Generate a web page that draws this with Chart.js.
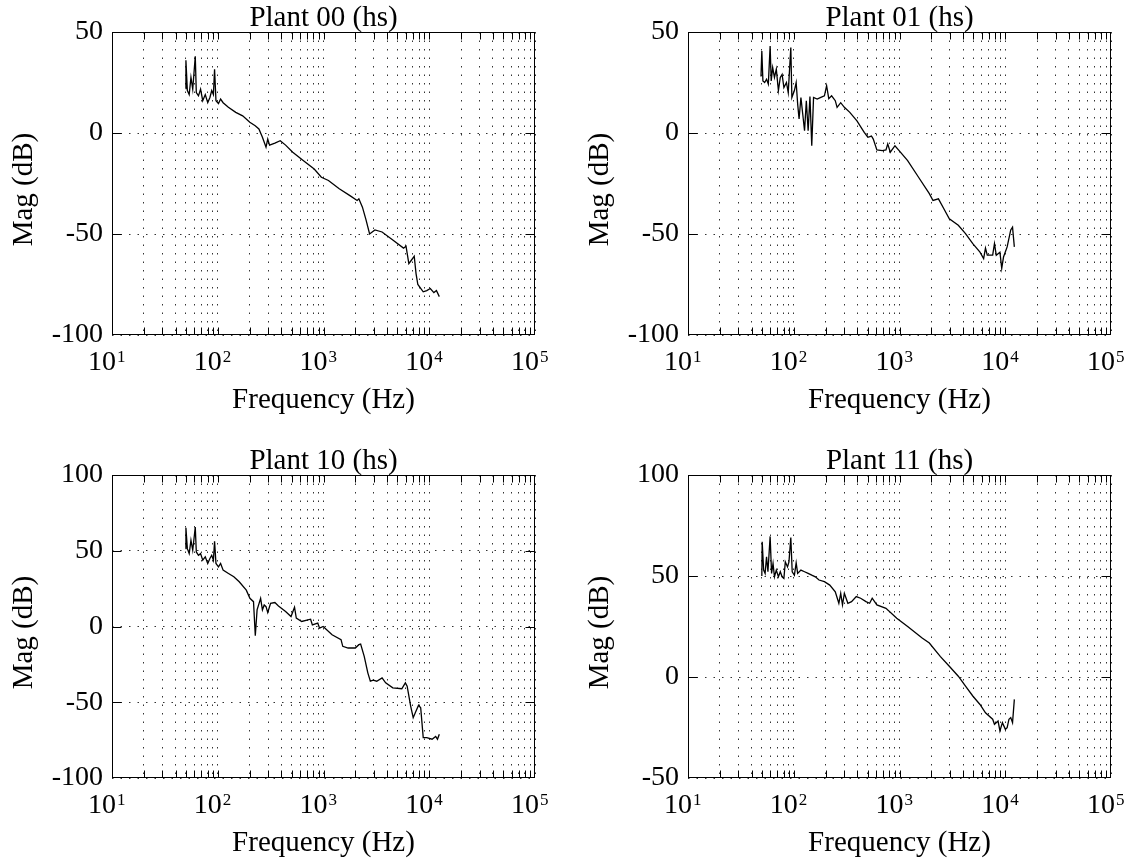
<!DOCTYPE html>
<html><head><meta charset="utf-8">
<script src="https://cdn.jsdelivr.net/npm/chart.js@4/dist/chart.umd.min.js"></script>
<style>
html,body{margin:0;padding:0;background:#fff;overflow:hidden;width:1128px;height:867px}
.cell{position:absolute}
canvas{display:block}
</style></head><body>
<div class="cell" style="left:0;top:0"><canvas id="c00" width="576" height="443"></canvas></div>
<div class="cell" style="left:576px;top:0"><canvas id="c01" width="552" height="443"></canvas></div>
<div class="cell" style="left:0;top:443px"><canvas id="c10" width="576" height="424"></canvas></div>
<div class="cell" style="left:576px;top:443px"><canvas id="c11" width="552" height="424"></canvas></div>
<script>
// ---- data (frequency in Hz, magnitude in dB) ----
const titles = ['Plant 00 (hs)', 'Plant 01 (hs)', 'Plant 10 (hs)', 'Plant 11 (hs)'];
const xAxisTitle = 'Frequency (Hz)';
const yAxisTitle = 'Mag (dB)';
const xLabelBase = '10';
const xLabelExponents = [1, 2, 3, 4, 5];
const yRange00 = [-100, 50], yRange01 = [-100, 50], yRange10 = [-100, 100], yRange11 = [-50, 100];
const yStep = 50;

const freq00 = [49.6,50,51.6,53.7,55.8,58,61.3,62.7,65.7,68.8,72.1,76.2,80.4,84.3,87.7,91,93.3,96.2,101.6,106.4,112.4,126,148,172,201,226,245,264,286,297,309,347,390,438,512,647,817,955,1114,1409,1778,2080,2160,2334,2524,2729,3064,3580,4521,5710,6030,6412,6775,7210,7500,7800,8770,9470,10230,11060,11690,12450];
const mag00 = [22,36,21,19,27.5,21.7,38,20,18.4,21.7,16,19,15,17.6,21,19,31.6,16,14.6,16.8,15,12.7,10.2,8.5,5.3,3.6,2,-2,-7,-3,-6,-5,-3.8,-6,-9.5,-13.7,-17.8,-21.9,-23.5,-27.6,-31,-33.4,-32.6,-36.7,-43,-50,-48,-49,-53,-57,-56,-64.7,-63,-61,-69.6,-75,-78.6,-78,-77,-79,-78,-81];

const freq01 = [49,49.9,51.1,53.1,55.3,57.5,59.8,61.2,63.2,65.7,68.4,71.6,74.6,77.6,80.7,85.3,88.7,93.8,96,101.4,105.4,108.9,112.3,116.9,121.6,126.5,131.5,136.8,142.3,148,153.9,166.6,180.3,195,204.5,214.4,228,247,257,278,301,339,396,464,502,543,565,611,688,745,774,818,906,1020,1194,1514,1915,2074,2335,2627,2958,3598,4210,4556,4932,5768,6246,6501,6761,7605,7907,8225,8906,9261,9630,10420,11270,11720,12190];
const mag01 = [28,40.6,25.8,25,26.6,24.2,43,25.8,32.4,27.5,31.6,21,27.5,29,22.5,25,20,42.3,17.6,21,25,14.3,7,17.6,9.4,1.1,16,1.1,18,-6.3,17.6,16.8,17.6,18.4,23.4,17,18.4,16,12.7,15,12.7,10.2,6,0.3,-2.1,-1.5,-3,-8.4,-8.7,-8.4,-5.4,-9.5,-6.3,-9.5,-13.7,-21.9,-30,-33.4,-32.6,-37.5,-42.5,-45.7,-49.8,-52.3,-54.8,-59,-62.2,-57,-60.5,-60.5,-54.8,-60.5,-59,-67,-61.4,-56.4,-48,-46.6,-56.4];

const freq10 = [49.6,50,51.6,53.7,55.8,58,61.3,62.7,65.7,68.8,72.1,76.2,80.4,84.3,87.7,91,93.3,96.2,101.6,106.4,112.4,126.3,141.9,159.6,186.2,201.4,217.8,226.5,235.5,254.3,264.5,275,286,297,316,347,375,438,493,532,553,622,755,785,883,918,993,1205,1465,1521,1710,2000,2160,2245,2427,2625,2773,2951,3187,3580,3870,4521,5500,5945,6180,6672,7050,7500,7925,8300,8770,9470,10640,11500,11960,12450];
const mag10 = [51.4,65.2,51.4,48.1,56.9,50.3,65.6,49.2,47,48.1,43.8,46,41.6,44.9,47,43.8,56.2,41.6,39.4,41.6,37.2,35,32.8,29.5,24,18.6,16.4,-6.1,11,18.6,11,14.2,13.1,9.2,15.3,15.8,13.6,9.9,6.6,12.7,5.5,3.3,4.8,1.1,2.2,-1.1,0,-5.5,-8.7,-13.1,-14.2,-14.2,-12,-11.6,-19.7,-30.6,-36.1,-35.4,-36.1,-33.9,-37.2,-40.5,-41.1,-37.2,-39.4,-52.5,-60.2,-55.8,-52,-53.6,-73.3,-73.3,-74.4,-72.6,-74.4,-71.1];

const freq11 = [49.9,50.3,51.9,53.6,55.3,57,59.8,61.7,63.7,65.7,68.4,71.6,74.6,77.6,80.7,83.2,87.3,90.1,93.8,96.7,101.4,105.4,108.9,116.9,126.5,136.8,148,160,173.3,195,219,247,267,278,289,301,325,352,390,429,482,522,552,611,745,942,1194,1637,1915,2427,2958,3598,4210,4932,5768,6501,7605,7907,8551,8906,9397,10030,10420,10840,11270,11720,12190];
const mag11 = [50,66.9,52.9,51.3,59.5,52.1,69.6,51.3,56.2,49.6,52.9,49.6,52.1,49.6,48.8,57,54.5,57,69,52.1,50.4,56.5,51.3,52.9,52.1,51.3,50.4,49.6,48,47.2,45.5,42.2,36.5,41.4,35.7,41.4,36.5,37.3,39.8,39,37.3,36.5,39,35.7,34,29.1,25,19.3,16.8,10.2,5.3,0.4,-4.5,-9.4,-13.6,-17.7,-20.9,-23.4,-21.8,-26.7,-22.6,-25.9,-25.1,-20.9,-20.1,-22.6,-11.1];

// log-axis tick positions (multiples 1..9 of each decade)
const xTickMantissas = [1,2,3,4,5,6,7,8,9];

// ---- layout / style ----
const FONT = '"Liberation Serif", "Times New Roman", Times, serif';
const AREA = {left: 112, right: 535, top: 32, bottom: 335};

function buildXTicks() {
  const out = [];
  for (let k = 1; k <= 4; k++) for (const m of xTickMantissas) out.push(m * Math.pow(10, k));
  out.push(1e5);
  return out;
}
const xTickValues = buildXTicks();

function decorPlugin(title) {
  return {
    id: 'decor',
    afterDraw(chart) {
      const {ctx, chartArea: a, scales: {x, y}} = chart;
      const L = Math.round(a.left) + 0.5, R = Math.round(a.right) - 0.5;
      const T = Math.round(a.top) + 0.5, B = Math.round(a.bottom) - 0.5;
      ctx.save();
      ctx.strokeStyle = '#000';
      ctx.lineWidth = 1;
      ctx.beginPath();
      for (const v of xTickValues) {
        if (v <= 10 || v >= 1e5) continue;
        const px = Math.round(x.getPixelForValue(v)) + 0.5;
        ctx.moveTo(px, T); ctx.lineTo(px, T + 7);
        ctx.moveTo(px, B); ctx.lineTo(px, B - 7);
      }
      for (const t of y.ticks) {
        if (t.value <= y.min || t.value >= y.max) continue;
        const py = Math.round(y.getPixelForValue(t.value)) + 0.5;
        ctx.moveTo(L, py); ctx.lineTo(L + 9, py);
        ctx.moveTo(R, py); ctx.lineTo(R - 9, py);
      }
      ctx.stroke();
      ctx.strokeRect(L, T, R - L, B - T);

      ctx.fillStyle = '#000';
      for (const k of xLabelExponents) {
        const px = x.getPixelForValue(Math.pow(10, k));
        ctx.font = '28px ' + FONT;
        ctx.textAlign = 'right';
        ctx.textBaseline = 'alphabetic';
        ctx.fillText(xLabelBase, px + 4, a.bottom + 35);
        ctx.font = '17px ' + FONT;
        ctx.textAlign = 'left';
        ctx.fillText(String(k), px + 5, a.bottom + 27);
      }
      const cx = (a.left + a.right) / 2;
      ctx.font = '29px ' + FONT;
      ctx.textAlign = 'center';
      ctx.textBaseline = 'alphabetic';
      ctx.fillText(title, cx, 26);
      ctx.fillText(xAxisTitle, cx, a.bottom + 73);
      ctx.translate(24, (a.top + a.bottom) / 2 + 6);
      ctx.rotate(-Math.PI / 2);
      ctx.textBaseline = 'middle';
      ctx.fillText(yAxisTitle, 0, 0);
      ctx.restore();
    }
  };
}

function makeChart(id, title, xs, ys, yRange) {
  const canvas = document.getElementById(id);
  const W = canvas.width, H = canvas.height;
  const pts = xs.map((f, i) => ({x: f, y: ys[i]}));
  return new Chart(canvas, {
    type: 'line',
    data: {datasets: [{data: pts, borderColor: '#000', borderWidth: 1.3, pointRadius: 0, fill: false, tension: 0}]},
    options: {
      responsive: false, animation: false, events: [],
      layout: {padding: {left: 0, top: AREA.top, right: W - AREA.right, bottom: 0}},
      plugins: {legend: {display: false}, tooltip: {enabled: false}, title: {display: false}},
      scales: {
        x: {
          type: 'logarithmic', min: 10, max: 1e5, position: 'bottom',
          afterBuildTicks: s => { s.ticks = xTickValues.map(v => ({value: v})); },
          afterFit: s => { s.height = H - AREA.bottom; },
          ticks: {display: false},
          grid: {drawTicks: false, color: 'rgba(0,0,0,0.8)', lineWidth: 1},
          border: {display: false, dash: [1.5, 7]}
        },
        y: {
          type: 'linear', min: yRange[0], max: yRange[1], position: 'left',
          afterFit: s => { s.width = AREA.left; },
          ticks: {stepSize: yStep, color: '#000', padding: 9, font: {family: FONT, size: 28}},
          grid: {drawTicks: false, color: 'rgba(0,0,0,0.8)', lineWidth: 1},
          border: {display: false, dash: [1.5, 7]}
        }
      }
    },
    plugins: [decorPlugin(title)]
  });
}

makeChart('c00', titles[0], freq00, mag00, yRange00);
makeChart('c01', titles[1], freq01, mag01, yRange01);
makeChart('c10', titles[2], freq10, mag10, yRange10);
makeChart('c11', titles[3], freq11, mag11, yRange11);
</script>
</body></html>
